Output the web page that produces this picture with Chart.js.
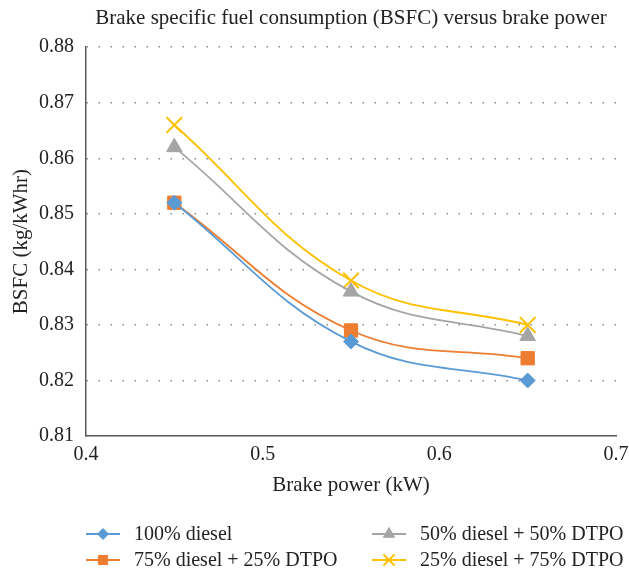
<!DOCTYPE html>
<html>
<head>
<meta charset="utf-8">
<script src="https://cdn.jsdelivr.net/npm/chart.js@4.4.1/dist/chart.umd.min.js"></script>
<style>
  html, body { margin: 0; padding: 0; background: #fff; }
  #wrap { width: 629px; height: 570px; position: relative; }
</style>
</head>
<body>
<div id="wrap"><canvas id="bsfcChart"></canvas></div>
<script>
// データ
const brakePower = [0.45, 0.55, 0.65];
const diesel100 = [0.852, 0.827, 0.820];
const diesel75 = [0.852, 0.829, 0.824];
const diesel50 = [0.862, 0.836, 0.828];
const diesel25 = [0.866, 0.838, 0.830];
const seriesNames = ["100% diesel", "75% diesel + 25% DTPO", "50% diesel + 50% DTPO", "25% diesel + 75% DTPO"];
const xTicks = [0.4, 0.5, 0.6, 0.7];
const yTicks = [0.81, 0.82, 0.83, 0.84, 0.85, 0.86, 0.87, 0.88];

const serif = "'Liberation Serif', 'DejaVu Serif', serif";

function toPoints(vals) {
  return vals.map((v, i) => ({ x: brakePower[i], y: v }));
}

function makeSet(label, vals, color, style, radius, bw, legendRadius) {
  return {
    label: label,
    data: toPoints(vals),
    borderColor: color,
    backgroundColor: color,
    borderWidth: 1.8,
    tension: 0.4,
    pointStyle: style,
    pointRadius: radius,
    pointHoverRadius: radius,
    pointBorderWidth: bw,
    pointBorderColor: color,
    pointBackgroundColor: color,
    legendRadius: legendRadius
  };
}

// 2x2の凡例を描く
const legendGrid = {
  id: "legendGrid",
  afterDraw(chart) {
    const ctx = chart.ctx;
    const cols = [86, 372];
    const rows = [534, 560];
    ctx.save();
    chart.data.datasets.forEach((ds, k) => {
      const x = cols[Math.floor(k / 2)];
      const y = rows[k % 2];
      ctx.strokeStyle = ds.borderColor;
      ctx.lineWidth = 2;
      ctx.beginPath();
      ctx.moveTo(x, y);
      ctx.lineTo(x + 34, y);
      ctx.stroke();
      ctx.fillStyle = ds.backgroundColor;
      ctx.strokeStyle = ds.pointBorderColor;
      ctx.lineWidth = ds.pointBorderWidth;
      Chart.helpers.drawPoint(ctx, {
        pointStyle: ds.pointStyle,
        rotation: 0,
        radius: ds.legendRadius,
        borderWidth: ds.pointBorderWidth
      }, x + 17, y);
      ctx.fillStyle = "#222";
      ctx.font = "20px " + serif;
      ctx.textBaseline = "middle";
      ctx.textAlign = "left";
      ctx.fillText(ds.label, x + 48, y + 1);
    });
    ctx.restore();
  }
};

const ctx = document.getElementById("bsfcChart").getContext("2d");
new Chart(ctx, {
  type: "line",
  data: {
    datasets: [
      makeSet(seriesNames[0], diesel100, "#5B9BD5", "rectRot", 7.5, 1, 5.5),
      makeSet(seriesNames[1], diesel75, "#ED7D31", "rect", 9.4, 1, 6.5),
      makeSet(seriesNames[2], diesel50, "#A5A5A5", "triangle", 9, 1, 6.5),
      makeSet(seriesNames[3], diesel25, "#FFC000", "crossRot", 11, 2, 8)
    ]
  },
  options: {
    responsive: true,
    maintainAspectRatio: false,
    animation: false,
    layout: { padding: { left: 5, right: 12, top: 0, bottom: 68 } },
    plugins: {
      legend: { display: false },
      tooltip: { enabled: false },
      title: {
        display: true,
        text: "Brake specific fuel consumption (BSFC) versus brake power",
        fullSize: false,
        color: "#222",
        font: { family: serif, size: 21, weight: "normal", lineHeight: 1.2 },
        padding: { top: 6, bottom: 16 }
      }
    },
    scales: {
      x: {
        type: "linear",
        min: 0.4,
        max: 0.7,
        afterBuildTicks: (s) => { s.ticks = xTicks.map(v => ({ value: v })); },
        afterFit: (s) => { s.height = 66; s.paddingRight = 10; },
        ticks: {
          color: "#222",
          padding: 7,
          maxRotation: 0,
          font: { family: serif, size: 20 },
          callback: (v) => Number(v).toFixed(1)
        },
        grid: { display: false, drawTicks: false },
        border: { display: true, color: "#595959", width: 1.5 },
        title: {
          display: true,
          text: "Brake power (kW)",
          color: "#222",
          font: { family: serif, size: 21 }
        }
      },
      y: {
        min: 0.81,
        max: 0.88,
        afterBuildTicks: (s) => { s.ticks = yTicks.map(v => ({ value: v })); },
        afterFit: (s) => { s.width = 81; },
        ticks: {
          color: "#222",
          padding: 12,
          font: { family: serif, size: 20 },
          callback: (v) => Number(v).toFixed(2)
        },
        grid: {
          drawTicks: false,
          color: (c) => c.tick && c.tick.value <= 0.81 ? "rgba(0,0,0,0)" : "#8c8c8c",
          lineWidth: 1.5
        },
        // 点線のグリッド
        border: { display: true, color: "#595959", width: 1.5, dash: [1.5, 10.5] },
        title: {
          display: true,
          text: "BSFC (kg/kWhr)",
          color: "#222",
          font: { family: serif, size: 21 }
        }
      }
    }
  },
  plugins: [legendGrid]
});
</script>
</body>
</html>
